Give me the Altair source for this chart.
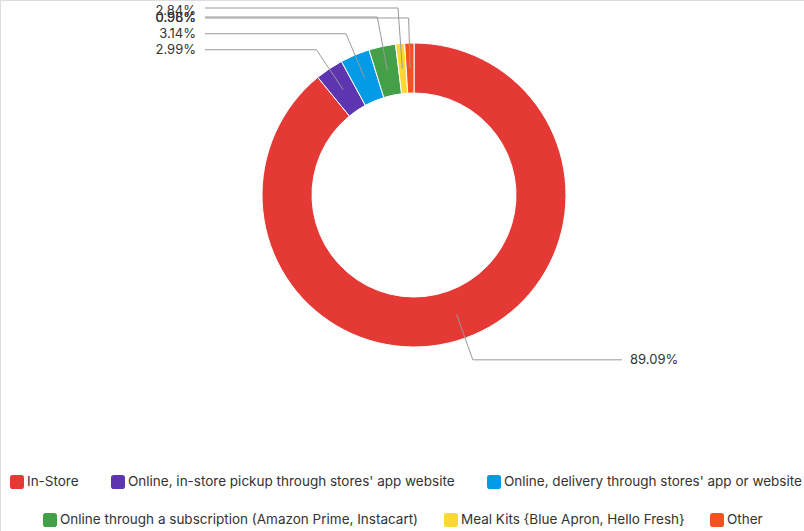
import altair as alt
import numpy as np
import pandas as pd

# ---- data ----
categories = [
    "In-Store",
    "Online, in-store pickup through stores' app website",
    "Online, delivery through stores' app or website",
    "Online through a subscription (Amazon Prime, Instacart)",
    "Meal Kits {Blue Apron, Hello Fresh}",
    "Other",
]
values = [89.09, 2.99, 3.14, 2.84, 0.96, 0.98]
colors = ["#E53935", "#5E35B1", "#039BE5", "#43A047", "#FDD835", "#F4511E"]

# ---- layout (pixel geometry of the donut and its callouts) ----
CX, CY = 414, 195
R_OUT, R_IN = 152, 102
R_MID = (R_OUT + R_IN) / 2
R_ELBOW = 175
LEFT_END, RIGHT_END = 205, 622
LEFT_TEXT, RIGHT_TEXT = 196, 630
# crowded labels on the upper-left are pushed to these rows (None = natural position)
line_row = [None, None, None, 17, 8, 18]
text_row = [None, None, None, 11, 18, 18]
FONT = "Inter"

vals = np.array(values)
ends = np.cumsum(vals)
starts = ends - vals

arcs = pd.DataFrame({"category": categories, "value": values,
                     "start": starts, "end": ends})

line_pts, text_pts = [], []
for i, cat in enumerate(categories):
    a = 2 * np.pi * (starts[i] + vals[i] / 2) / 100
    sx, sy = CX + R_MID * np.sin(a), CY - R_MID * np.cos(a)
    ex = CX + R_ELBOW * np.sin(a)
    ey = CY - R_ELBOW * np.cos(a) if line_row[i] is None else line_row[i]
    right = np.sin(a) > 0
    fx = RIGHT_END if right else LEFT_END
    for k, (px, py) in enumerate([(sx, sy), (ex, ey), (fx, ey)]):
        line_pts.append({"category": cat, "k": k, "px": px, "py": py})
    ty = ey if text_row[i] is None else text_row[i]
    text_pts.append({"category": cat, "label": f"{values[i]:.2f}%",
                     "px": RIGHT_TEXT if right else LEFT_TEXT, "py": ty,
                     "side": "right" if right else "left"})
lines = pd.DataFrame(line_pts)
texts = pd.DataFrame(text_pts)

ROUND_SQ = ("M-1,-0.6 Q-1,-1 -0.6,-1 L0.6,-1 Q1,-1 1,-0.6 L1,0.6 Q1,1 0.6,1 "
            "L-0.6,1 Q-1,1 -1,0.6 Z")


def legend(x, y, pad):
    return alt.Legend(title=None, orient="none", legendX=x, legendY=y,
                      direction="horizontal", symbolType=ROUND_SQ,
                      symbolSize=196, symbolStrokeWidth=0, symbolOpacity=1,
                      labelFont=FONT, labelFontSize=13.5, labelColor="#333333",
                      labelOffset=3, columnPadding=pad, labelLimit=400)


theta = alt.Theta("start:Q", scale=alt.Scale(domain=[0, 100]))
base_arc = alt.Chart(arcs).mark_arc(outerRadius=R_OUT, innerRadius=R_IN,
                                    stroke="white", strokeWidth=1)

arc_a = base_arc.transform_filter(
    alt.FieldOneOfPredicate(field="category", oneOf=categories[:3])
).encode(
    theta=theta, theta2="end:Q", x=alt.value(CX), y=alt.value(CY),
    color=alt.Color("category:N", sort=categories[:3],
                    scale=alt.Scale(domain=categories[:3], range=colors[:3]),
                    legend=legend(10, 475, 32)),
)
arc_b = base_arc.transform_filter(
    alt.FieldOneOfPredicate(field="category", oneOf=categories[3:])
).encode(
    theta=theta, theta2="end:Q", x=alt.value(CX), y=alt.value(CY),
    color=alt.Color("category:N", sort=categories[3:],
                    scale=alt.Scale(domain=categories[3:], range=colors[3:]),
                    legend=legend(43, 513, 25)),
)

leaders = alt.Chart(lines).mark_line(color="#999999", strokeWidth=1).encode(
    x=alt.X("px:Q", scale=None), y=alt.Y("py:Q", scale=None),
    detail="category:N", order="k:Q",
)

def label_layer(side, align):
    return alt.Chart(texts).transform_filter(alt.datum.side == side).mark_text(
        align=align, baseline="middle", font=FONT, fontSize=13, color="#333333"
    ).encode(x=alt.X("px:Q", scale=None), y=alt.Y("py:Q", scale=None),
             text="label:N")

chart = alt.layer(
    arc_a, arc_b, leaders, label_layer("left", "right"), label_layer("right", "left")
).resolve_scale(color="independent").properties(
    width=804, height=531, autosize=alt.AutoSizeParams(type="none"), padding=0
).configure_view(stroke=None).configure(background="white")

chart.save("out.html", embed_options={"renderer": "svg", "actions": False})
